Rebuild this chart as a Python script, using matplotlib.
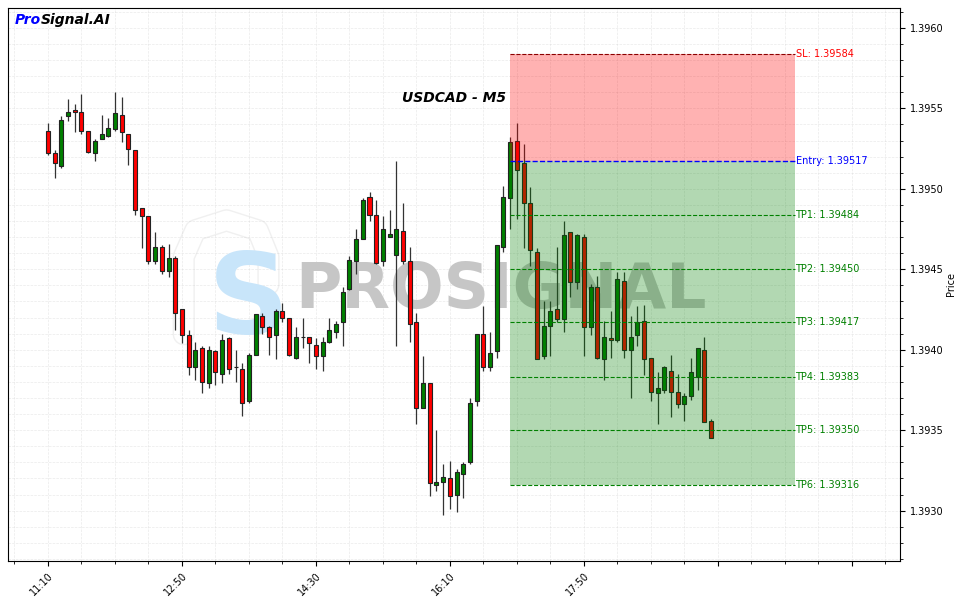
import numpy as np
import pandas as pd
import matplotlib
matplotlib.use("Agg")
import matplotlib.pyplot as plt
import matplotlib.patheffects as pe
from matplotlib.ticker import MultipleLocator, FuncFormatter

# USDCAD 5 minute candles, starting 11:10
start_time = "2024-01-01 11:10"

opens = [1.39536, 1.39522, 1.39514, 1.39545, 1.39549, 1.39548, 1.39536, 1.39522, 1.39531, 1.39533,
         1.39537, 1.39546, 1.39534, 1.39524, 1.39488, 1.39483, 1.39455, 1.39464, 1.39449, 1.39457,
         1.39425, 1.39409, 1.39389, 1.39401, 1.39379, 1.39399, 1.39385, 1.39407, 1.39389, 1.39388,
         1.39368, 1.39397, 1.39421, 1.39414, 1.39409, 1.39424, 1.39420, 1.39395, 1.39408, 1.39408,
         1.39403, 1.39396, 1.39405, 1.39411, 1.39417, 1.39438, 1.39455, 1.39469, 1.39495, 1.39484,
         1.39455, 1.39470, 1.39459, 1.39474, 1.39455, 1.39417, 1.39364, 1.39379, 1.39316, 1.39318,
         1.39320, 1.39310, 1.39323, 1.39330, 1.39368, 1.39410, 1.39389, 1.39399, 1.39464, 1.39494,
         1.39530, 1.39516, 1.39491, 1.39461, 1.39396, 1.39415, 1.39425, 1.39419, 1.39473, 1.39442,
         1.39470, 1.39414, 1.39439, 1.39394, 1.39407, 1.39406, 1.39443, 1.39400, 1.39409, 1.39418,
         1.39395, 1.39373, 1.39375, 1.39387, 1.39374, 1.39366, 1.39371, 1.39383, 1.39400, 1.39356]

highs = [1.39541, 1.39524, 1.39545, 1.39556, 1.39553, 1.39559, 1.39536, 1.39531, 1.39546, 1.39544,
         1.39560, 1.39557, 1.39534, 1.39524, 1.39488, 1.39483, 1.39473, 1.39465, 1.39466, 1.39458,
         1.39425, 1.39412, 1.39405, 1.39402, 1.39402, 1.39400, 1.39410, 1.39408, 1.39400, 1.39392,
         1.39398, 1.39422, 1.39423, 1.39415, 1.39425, 1.39429, 1.39420, 1.39414, 1.39420, 1.39408,
         1.39407, 1.39408, 1.39420, 1.39418, 1.39439, 1.39458, 1.39475, 1.39494, 1.39498, 1.39493,
         1.39483, 1.39487, 1.39517, 1.39491, 1.39464, 1.39423, 1.39396, 1.39379, 1.39350, 1.39329,
         1.39331, 1.39326, 1.39330, 1.39370, 1.39410, 1.39427, 1.39411, 1.39465, 1.39502, 1.39532,
         1.39541, 1.39528, 1.39501, 1.39463, 1.39430, 1.39430, 1.39464, 1.39480, 1.39473, 1.39472,
         1.39472, 1.39441, 1.39446, 1.39418, 1.39424, 1.39448, 1.39448, 1.39421, 1.39427, 1.39428,
         1.39395, 1.39386, 1.39390, 1.39397, 1.39385, 1.39373, 1.39395, 1.39401, 1.39408, 1.39357]

lows = [1.39521, 1.39507, 1.39513, 1.39542, 1.39535, 1.39534, 1.39522, 1.39517, 1.39531, 1.39532,
        1.39536, 1.39529, 1.39515, 1.39484, 1.39463, 1.39453, 1.39453, 1.39447, 1.39445, 1.39412,
        1.39404, 1.39384, 1.39381, 1.39373, 1.39376, 1.39378, 1.39379, 1.39385, 1.39380, 1.39359,
        1.39367, 1.39397, 1.39410, 1.39397, 1.39394, 1.39417, 1.39396, 1.39394, 1.39401, 1.39392,
        1.39388, 1.39387, 1.39404, 1.39407, 1.39402, 1.39437, 1.39447, 1.39469, 1.39480, 1.39453,
        1.39452, 1.39470, 1.39402, 1.39453, 1.39405, 1.39354, 1.39364, 1.39309, 1.39312, 1.39297,
        1.39301, 1.39299, 1.39308, 1.39329, 1.39365, 1.39387, 1.39387, 1.39395, 1.39461, 1.39475,
        1.39481, 1.39463, 1.39452, 1.39394, 1.39394, 1.39396, 1.39417, 1.39411, 1.39433, 1.39438,
        1.39396, 1.39409, 1.39394, 1.39381, 1.39395, 1.39405, 1.39395, 1.39370, 1.39402, 1.39384,
        1.39368, 1.39354, 1.39373, 1.39358, 1.39364, 1.39356, 1.39369, 1.39375, 1.39355, 1.39345]

closes = [1.39522, 1.39516, 1.39543, 1.39548, 1.39548, 1.39536, 1.39523, 1.39530, 1.39534, 1.39538,
          1.39547, 1.39535, 1.39525, 1.39487, 1.39483, 1.39455, 1.39464, 1.39449, 1.39457, 1.39423,
          1.39409, 1.39389, 1.39400, 1.39380, 1.39400, 1.39386, 1.39406, 1.39388, 1.39389, 1.39367,
          1.39397, 1.39422, 1.39414, 1.39408, 1.39424, 1.39420, 1.39397, 1.39408, 1.39408, 1.39404,
          1.39396, 1.39405, 1.39412, 1.39416, 1.39436, 1.39456, 1.39469, 1.39493, 1.39484, 1.39454,
          1.39475, 1.39472, 1.39475, 1.39455, 1.39416, 1.39364, 1.39379, 1.39317, 1.39318, 1.39321,
          1.39309, 1.39324, 1.39329, 1.39367, 1.39410, 1.39389, 1.39398, 1.39465, 1.39495, 1.39529,
          1.39512, 1.39491, 1.39462, 1.39394, 1.39415, 1.39424, 1.39419, 1.39471, 1.39442, 1.39471,
          1.39414, 1.39439, 1.39395, 1.39408, 1.39406, 1.39444, 1.39400, 1.39408, 1.39417, 1.39394,
          1.39374, 1.39376, 1.39389, 1.39374, 1.39366, 1.39371, 1.39386, 1.39401, 1.39355, 1.39345]

# trade levels
sl_price = 1.39584
entry_price = 1.39517
tp_prices = [1.39484, 1.39450, 1.39417, 1.39383, 1.39350, 1.39316]

# signal box spans from this candle index to a bit past the last candle
box_start = 69
box_end = 111.5

n = len(opens)
times = pd.date_range(start_time, periods=n, freq="5min")
o = np.array(opens)
h = np.array(highs)
l = np.array(lows)
c = np.array(closes)
x = np.arange(n)

fig = plt.figure(figsize=(9.63, 6.03), dpi=100)
ax = fig.add_axes([0.0083, 0.0697, 0.9263, 0.9171])

# watermark (logo + name), opaque light colours so the zones tint it
arch_x = [0.197, 0.197, 0.210, 0.245, 0.280, 0.292, 0.292]
arch_y = [0.41, 0.55, 0.598, 0.616, 0.598, 0.55, 0.50]
ax.plot(arch_x, arch_y, transform=ax.transAxes, color="white", lw=14, solid_capstyle="round",
        zorder=0, path_effects=[pe.Stroke(linewidth=16, foreground="#f0f0f0"), pe.Normal()])
ax.text(0.270, 0.412, "S", transform=ax.transAxes, fontsize=81, fontweight="bold",
        color="#c8e5fa", ha="center", va="baseline", zorder=1)
ax.text(0.553, 0.4575, "PROSIGNAL", transform=ax.transAxes, fontsize=45.5, fontweight="bold",
        color="#c6c6c6", ha="center", va="baseline", zorder=1)

# candles
up = c >= o
body_colors = np.where(up, "green", "red")
ax.vlines(x, l, h, color="#333333", linewidth=0.9, zorder=2)
ax.bar(x, np.abs(c - o), bottom=np.minimum(o, c), width=0.6, color=body_colors,
       edgecolor="#222222", linewidth=0.8, zorder=3)

# risk / reward zones, drawn over the candles
ax.fill_between([box_start, box_end], entry_price, sl_price, color="red", alpha=0.3, lw=0, zorder=4)
ax.fill_between([box_start, box_end], tp_prices[-1], entry_price, color="green", alpha=0.3, lw=0, zorder=4)

ax.hlines(sl_price, box_start, box_end, colors="darkred", linestyles="--", linewidth=0.8, zorder=6)
ax.text(box_end + 0.1, sl_price, f"SL: {sl_price:.5f}", color="red", fontsize=7, va="center", zorder=6)
ax.hlines(entry_price, box_start, box_end, colors="blue", linestyles="--", linewidth=1.0, zorder=6)
ax.text(box_end + 0.1, entry_price, f"Entry: {entry_price:.5f}", color="blue", fontsize=7, va="center", zorder=6)
for i, tp in enumerate(tp_prices):
    ax.hlines(tp, box_start, box_end, colors="green", linestyles="--", linewidth=0.8, zorder=6)
    ax.text(box_end + 0.1, tp, f"TP{i + 1}: {tp:.5f}", color="green", fontsize=7, va="center", zorder=6)

# axes setup
ax.set_xlim(-5.97, 127.2)
ax.set_ylim(1.392687, 1.396124)

ax.xaxis.set_major_locator(MultipleLocator(20))
ax.xaxis.set_minor_locator(MultipleLocator(5))
ax.xaxis.set_major_formatter(FuncFormatter(
    lambda v, pos: times[int(round(v))].strftime("%H:%M") if 0 <= round(v) < n else ""))
ax.yaxis.set_major_locator(MultipleLocator(0.0005))
ax.yaxis.set_minor_locator(MultipleLocator(0.0001))
ax.yaxis.set_major_formatter(FuncFormatter(lambda v, pos: f"{v:.4f}"))
ax.yaxis.tick_right()
ax.yaxis.set_label_position("right")
ax.set_ylabel("Price", fontsize=7, labelpad=2)
ax.tick_params(axis="both", which="major", labelsize=7)
plt.setp(ax.get_xticklabels(), rotation=45, ha="right", rotation_mode="anchor")

ax.grid(which="both", color="#cccccc", linestyle="--", linewidth=0.5, alpha=0.4)
ax.set_axisbelow(True)

# titles
ax.text(0.5, 0.830, "USDCAD - M5", transform=ax.transAxes, fontsize=10, fontweight="bold",
        fontstyle="italic", ha="center", va="baseline")
t1 = ax.text(0.008, 0.971, "Pro", transform=ax.transAxes, fontsize=10, fontweight="bold",
             fontstyle="italic", color="blue", va="baseline")
ax.annotate("Signal.AI", xy=(1, 0), xycoords=t1, fontsize=10, fontweight="bold",
            fontstyle="italic", color="black", va="bottom")

fig.savefig("out.png", dpi=100)
